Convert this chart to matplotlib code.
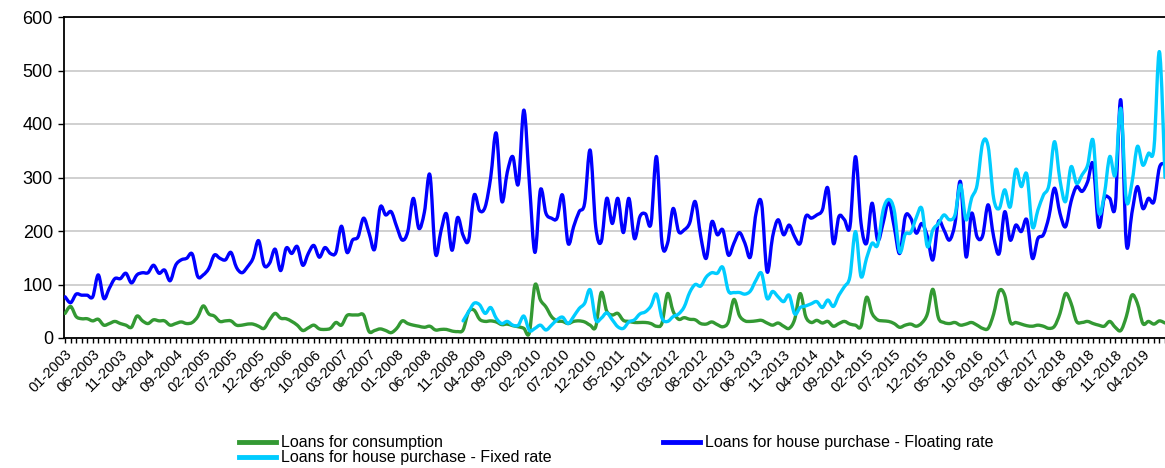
"""Line chart: monthly new loans by purpose, 2003-2019."""
import numpy as np
import matplotlib
matplotlib.use('Agg')
import matplotlib.pyplot as plt
from matplotlib.path import Path
from matplotlib.patches import PathPatch
from matplotlib.lines import Line2D

plt.rcParams['font.family'] = ['Liberation Sans', 'DejaVu Sans']

# one category per month, 01-2003 onwards
n_months = 200
month_labels = ['%02d-%d' % (i % 12 + 1, 2003 + i // 12) for i in range(n_months)]

consumption = [
    46, 59, 40, 36, 36, 32, 35, 24, 27, 31,
    27, 24, 20, 41, 32, 27, 34, 32, 32, 24,
    27, 30, 27, 29, 40, 60, 45, 41, 31, 32,
    32, 24, 24, 26, 26, 22, 18, 34, 46, 37,
    36, 31, 24, 14, 19, 24, 17, 16, 18, 29,
    24, 42, 43, 43, 43, 12, 14, 17, 14, 10,
    18, 32, 27, 24, 22, 20, 22, 15, 16, 16,
    13, 12, 15, 49, 52, 35, 31, 32, 30, 25,
    26, 23, 21, 18, 10, 99, 71, 58, 40, 32,
    31, 27, 31, 32, 30, 24, 21, 85, 50, 43,
    46, 33, 31, 29, 29, 29, 27, 22, 28, 83,
    50, 35, 38, 35, 34, 27, 26, 30, 25, 21,
    30, 72, 42, 32, 31, 32, 33, 28, 24, 28,
    22, 18, 35, 83, 40, 29, 33, 28, 31, 22,
    27, 31, 26, 24, 22, 76, 46, 34, 32, 31,
    27, 20, 24, 26, 22, 28, 45, 91, 38, 29,
    27, 29, 24, 26, 29, 24, 18, 18, 45, 88,
    80, 30, 29, 26, 23, 22, 24, 22, 18, 22,
    46, 83, 65, 31, 29, 31, 27, 24, 22, 31,
    20, 14, 40, 80, 65, 27, 31, 26, 32, 28,
]

floating_rate = [
    77, 66, 82, 80, 80, 77, 118, 74, 93, 111,
    111, 121, 103, 118, 122, 122, 136, 121, 127, 107,
    136, 146, 149, 157, 115, 118, 130, 155, 149, 146,
    160, 132, 122, 133, 149, 182, 136, 140, 166, 126,
    168, 158, 171, 136, 158, 173, 151, 169, 158, 160,
    209, 160, 183, 189, 224, 196, 166, 244, 230, 236,
    208, 183, 199, 261, 205, 235, 305, 158, 200, 232,
    164, 225, 192, 183, 267, 238, 245, 300, 383, 256,
    310, 339, 288, 426, 290, 160, 277, 233, 224, 224,
    267, 177, 208, 236, 252, 351, 208, 180, 261, 214,
    261, 197, 261, 186, 227, 232, 214, 339, 177, 177,
    242, 199, 202, 215, 255, 190, 149, 217, 193, 202,
    155, 177, 197, 177, 152, 233, 252, 124, 189, 221,
    193, 211, 189, 177, 227, 224, 230, 239, 280, 177,
    227, 221, 208, 339, 215, 177, 252, 183, 215, 255,
    208, 158, 227, 224, 196, 214, 190, 146, 217, 202,
    183, 214, 292, 152, 233, 189, 191, 249, 189, 158,
    236, 183, 211, 199, 221, 149, 186, 193, 227, 280,
    233, 208, 255, 283, 274, 292, 325, 208, 261, 261,
    247, 445, 177, 233, 283, 242, 261, 255, 319, 325,
]

# fixed rate series starts in 01-2009
fixed_start = 72
fixed_rate = [
    32, 49, 65, 62, 46, 57, 37, 27,
    31, 24, 24, 41, 14, 18, 24, 15, 24, 34,
    39, 27, 40, 55, 65, 90, 34, 37, 47, 34,
    21, 18, 30, 34, 45, 49, 60, 82, 37, 31,
    40, 45, 58, 85, 100, 97, 114, 122, 121, 132,
    88, 85, 85, 82, 88, 108, 121, 74, 87, 77,
    68, 80, 45, 57, 60, 64, 68, 57, 71, 59,
    80, 96, 115, 199, 115, 149, 177, 174, 239, 259,
    239, 161, 194, 197, 225, 242, 171, 202, 214, 230,
    221, 230, 286, 221, 261, 286, 364, 358, 261, 242,
    277, 245, 315, 283, 306, 208, 239, 267, 286, 367,
    295, 255, 320, 289, 305, 323, 369, 236, 267, 339,
    305, 429, 258, 289, 358, 323, 345, 355, 535, 300,
]

GREEN = '#339933'
BLUE = '#0000FF'
CYAN = '#00CCFF'
LW = 2.4


def smooth_path(xs, ys):
    # Catmull-Rom style bezier, like a spreadsheet "smoothed line"
    p = np.column_stack([xs, ys]).astype(float)
    n = len(p)
    verts = [tuple(p[0])]
    codes = [Path.MOVETO]
    for i in range(n - 1):
        p0 = p[max(i - 1, 0)]
        p1 = p[i]
        p2 = p[i + 1]
        p3 = p[min(i + 2, n - 1)]
        c1 = p1 + (p2 - p0) / 6.0
        c2 = p2 - (p3 - p1) / 6.0
        verts += [tuple(c1), tuple(c2), tuple(p2)]
        codes += [Path.CURVE4] * 3
    return Path(verts, codes)


fig = plt.figure(figsize=(11.65, 4.68), dpi=100)
ax = fig.add_axes([64 / 1165, 1 - 338 / 468, 1 - 64 / 1165, (338 - 17) / 468])

x_all = np.arange(n_months)
x_fixed = np.arange(fixed_start, fixed_start + len(fixed_rate))

series = [
    (x_all, consumption, GREEN, 'Loans for consumption', 3),
    (x_all, floating_rate, BLUE, 'Loans for house purchase - Floating rate', 4),
    (x_fixed, fixed_rate, CYAN, 'Loans for house purchase - Fixed rate', 5),
]
handles = {}
for xs, ys, col, lab, z in series:
    patch = PathPatch(smooth_path(xs, ys), fill=False, edgecolor=col, lw=LW,
                      capstyle='round', joinstyle='round', zorder=z)
    ax.add_patch(patch)
    handles[lab] = Line2D([], [], color=col, lw=3.5)

ax.set_xlim(-0.2, 198.8)
ax.set_ylim(0, 600)

ax.set_yticks(np.arange(0, 601, 100))
ax.tick_params(axis='y', labelsize=13, length=4, width=1, direction='out', pad=4)
ax.yaxis.grid(True, color='#C8C8C8', linewidth=1.2)
ax.set_axisbelow(True)

ax.set_xticks(x_all)
ax.set_xticklabels([lab if i % 5 == 0 else '' for i, lab in enumerate(month_labels)],
                   rotation=45, ha='right', va='top', rotation_mode='anchor',
                   fontsize=10.5)
ax.tick_params(axis='x', length=3.5, width=1, direction='out', pad=3)

for side in ['left', 'bottom', 'top']:
    ax.spines[side].set_color('black')
    ax.spines[side].set_linewidth(1.3)
ax.spines['right'].set_visible(False)

order = ['Loans for consumption', 'Loans for house purchase - Fixed rate',
         'Loans for house purchase - Floating rate']
fig.legend([handles[k] for k in order], order, loc='center', ncol=2,
           bbox_to_anchor=(0.529, 0.038), frameon=False, fontsize=11.5,
           handlelength=2.3, handletextpad=0.3, columnspacing=7.0,
           labelspacing=0.0, borderpad=0.2)

fig.savefig('out.png', dpi=100)
